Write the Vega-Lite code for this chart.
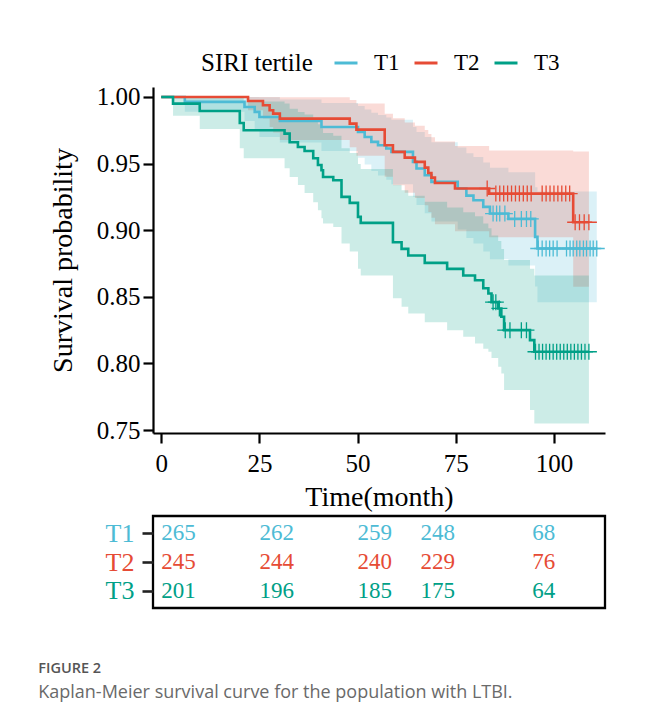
{
  "$schema": "https://vega.github.io/schema/vega-lite/v6.json",
  "background": "white",
  "padding": {"left": 38, "top": 50, "right": 0, "bottom": 0},
  "config": {
    "view": {"stroke": null},
    "font": "Liberation Serif",
    "concat": {"spacing": 3},
    "axis": {
      "domainColor": "black", "domainWidth": 2.2, "tickColor": "black", "tickWidth": 2.2, "tickSize": 10,
      "labelFont": "Liberation Serif", "labelFontSize": 25, "labelColor": "black",
      "titleFont": "Liberation Serif", "titleFontSize": 28, "titleFontWeight": "normal", "titleColor": "black",
      "grid": false
    }
  },
  "resolve": {
    "scale": {"color": "independent", "fill": "independent", "stroke": "independent"},
    "legend": {"color": "independent", "fill": "independent", "stroke": "independent"}
  },
  "title": {
    "text": "FIGURE 2",
    "subtitle": "Kaplan-Meier survival curve for the population with LTBI.",
    "orient": "bottom",
    "anchor": "start",
    "dx": -11,
    "offset": 53,
    "font": "Open Sans",
    "fontSize": 14.5,
    "fontWeight": 600,
    "color": "#555555",
    "subtitleFont": "Open Sans",
    "subtitleFontSize": 18,
    "subtitleColor": "#6a6a6a",
    "subtitlePadding": 7
  },
  "datasets": {
    "km": [
      {"g":"T1","t":0,"S":1,"lo":1,"hi":1},
      {"g":"T1","t":6.0,"S":0.9963,"lo":0.989,"hi":1},
      {"g":"T1","t":21.2,"S":0.9925,"lo":0.982,"hi":1},
      {"g":"T1","t":23.8,"S":0.9888,"lo":0.976,"hi":1},
      {"g":"T1","t":25.0,"S":0.985,"lo":0.970,"hi":0.9998},
      {"g":"T1","t":30.2,"S":0.982,"lo":0.9658,"hi":0.9982},
      {"g":"T1","t":40.8,"S":0.9775,"lo":0.9595,"hi":0.9955},
      {"g":"T1","t":50.1,"S":0.9738,"lo":0.9544,"hi":0.9932},
      {"g":"T1","t":51.8,"S":0.97,"lo":0.9493,"hi":0.9907},
      {"g":"T1","t":53.5,"S":0.9663,"lo":0.9444,"hi":0.9882},
      {"g":"T1","t":55.2,"S":0.9638,"lo":0.9411,"hi":0.9865},
      {"g":"T1","t":57.3,"S":0.9613,"lo":0.9379,"hi":0.9847},
      {"g":"T1","t":58.6,"S":0.9588,"lo":0.9346,"hi":0.983},
      {"g":"T1","t":64.1,"S":0.9513,"lo":0.9251,"hi":0.9775},
      {"g":"T1","t":65.0,"S":0.9463,"lo":0.9189,"hi":0.9737},
      {"g":"T1","t":67.1,"S":0.9413,"lo":0.9127,"hi":0.9699},
      {"g":"T1","t":68.8,"S":0.9363,"lo":0.9066,"hi":0.966},
      {"g":"T1","t":75.5,"S":0.9313,"lo":0.9006,"hi":0.9621},
      {"g":"T1","t":77.7,"S":0.926,"lo":0.8942,"hi":0.9578},
      {"g":"T1","t":79.5,"S":0.9225,"lo":0.89,"hi":0.955},
      {"g":"T1","t":82.0,"S":0.9175,"lo":0.8841,"hi":0.9509},
      {"g":"T1","t":83.7,"S":0.9125,"lo":0.8782,"hi":0.9469},
      {"g":"T1","t":88.4,"S":0.9085,"lo":0.8735,"hi":0.9436},
      {"g":"T1","t":95.2,"S":0.895,"lo":0.8577,"hi":0.9323},
      {"g":"T1","t":95.8,"S":0.8863,"lo":0.846,"hi":0.929},
      {"g":"T1","t":110.9,"S":0.8863,"lo":0.846,"hi":0.929},

      {"g":"T2","t":0,"S":1,"lo":1,"hi":1},
      {"g":"T2","t":22.1,"S":0.997,"lo":0.9901,"hi":1},
      {"g":"T2","t":25.9,"S":0.9938,"lo":0.9839,"hi":1},
      {"g":"T2","t":27.6,"S":0.99,"lo":0.9774,"hi":1},
      {"g":"T2","t":28.5,"S":0.9875,"lo":0.9734,"hi":1},
      {"g":"T2","t":30.2,"S":0.9838,"lo":0.9678,"hi":0.9998},
      {"g":"T2","t":48.0,"S":0.98,"lo":0.9623,"hi":0.9977},
      {"g":"T2","t":49.7,"S":0.9755,"lo":0.9559,"hi":0.9951},
      {"g":"T2","t":56.9,"S":0.9638,"lo":0.9402,"hi":0.9874},
      {"g":"T2","t":59.0,"S":0.9588,"lo":0.9337,"hi":0.984},
      {"g":"T2","t":62.0,"S":0.9545,"lo":0.9281,"hi":0.9809},
      {"g":"T2","t":64.6,"S":0.9513,"lo":0.9241,"hi":0.9785},
      {"g":"T2","t":67.1,"S":0.947,"lo":0.9187,"hi":0.9753},
      {"g":"T2","t":68.0,"S":0.943,"lo":0.9137,"hi":0.9723},
      {"g":"T2","t":68.8,"S":0.9395,"lo":0.9093,"hi":0.9697},
      {"g":"T2","t":69.7,"S":0.9355,"lo":0.9044,"hi":0.9666},
      {"g":"T2","t":74.8,"S":0.9313,"lo":0.8993,"hi":0.9633},
      {"g":"T2","t":83.5,"S":0.9275,"lo":0.8947,"hi":0.9598},
      {"g":"T2","t":104.9,"S":0.906,"lo":0.8575,"hi":0.959},
      {"g":"T2","t":108.9,"S":0.906,"lo":0.8575,"hi":0.959},

      {"g":"T3","t":0,"S":1,"lo":1,"hi":1},
      {"g":"T3","t":3.0,"S":0.995,"lo":0.986,"hi":1},
      {"g":"T3","t":9.8,"S":0.9895,"lo":0.976,"hi":1},
      {"g":"T3","t":20.0,"S":0.9805,"lo":0.9615,"hi":0.9997},
      {"g":"T3","t":21.0,"S":0.975,"lo":0.954,"hi":0.9966},
      {"g":"T3","t":31.4,"S":0.9725,"lo":0.9465,"hi":0.9952},
      {"g":"T3","t":32.7,"S":0.966,"lo":0.94,"hi":0.9911},
      {"g":"T3","t":34.8,"S":0.9625,"lo":0.934,"hi":0.9888},
      {"g":"T3","t":36.5,"S":0.9595,"lo":0.928,"hi":0.9868},
      {"g":"T3","t":38.7,"S":0.954,"lo":0.921,"hi":0.983},
      {"g":"T3","t":39.9,"S":0.949,"lo":0.915,"hi":0.9795},
      {"g":"T3","t":40.8,"S":0.945,"lo":0.909,"hi":0.9766},
      {"g":"T3","t":41.2,"S":0.94,"lo":0.905,"hi":0.9729},
      {"g":"T3","t":43.8,"S":0.9375,"lo":0.9025,"hi":0.971},
      {"g":"T3","t":45.9,"S":0.925,"lo":0.89,"hi":0.9615},
      {"g":"T3","t":48.0,"S":0.9205,"lo":0.884,"hi":0.958},
      {"g":"T3","t":50.1,"S":0.91,"lo":0.871,"hi":0.9497},
      {"g":"T3","t":50.8,"S":0.9055,"lo":0.866,"hi":0.946},
      {"g":"T3","t":59.0,"S":0.891,"lo":0.849,"hi":0.9342},
      {"g":"T3","t":61.2,"S":0.886,"lo":0.8425,"hi":0.930},
      {"g":"T3","t":62.9,"S":0.881,"lo":0.8375,"hi":0.9259},
      {"g":"T3","t":67.1,"S":0.8755,"lo":0.831,"hi":0.9213},
      {"g":"T3","t":72.8,"S":0.871,"lo":0.825,"hi":0.917},
      {"g":"T3","t":76.9,"S":0.866,"lo":0.82,"hi":0.9135},
      {"g":"T3","t":79.9,"S":0.8625,"lo":0.815,"hi":0.9105},
      {"g":"T3","t":82.0,"S":0.8565,"lo":0.811,"hi":0.905},
      {"g":"T3","t":83.3,"S":0.8525,"lo":0.8088,"hi":0.9015},
      {"g":"T3","t":84.1,"S":0.846,"lo":0.804,"hi":0.896},
      {"g":"T3","t":85.8,"S":0.8413,"lo":0.7975,"hi":0.892},
      {"g":"T3","t":86.6,"S":0.835,"lo":0.7925,"hi":0.886},
      {"g":"T3","t":87.3,"S":0.825,"lo":0.78,"hi":0.8777},
      {"g":"T3","t":93.9,"S":0.8175,"lo":0.765,"hi":0.871},
      {"g":"T3","t":95.0,"S":0.8088,"lo":0.755,"hi":0.866},
      {"g":"T3","t":108.9,"S":0.8088,"lo":0.755,"hi":0.866}
    ],
    "cens": [
      {"g":"T1","t":84.5,"S":0.9125},{"g":"T1","t":85.4,"S":0.9125},{"g":"T1","t":86.2,"S":0.9125},{"g":"T1","t":87.5,"S":0.9125},
      {"g":"T1","t":90.0,"S":0.9085},{"g":"T1","t":91.7,"S":0.9085},{"g":"T1","t":93.0,"S":0.9085},{"g":"T1","t":94.1,"S":0.9085},
      {"g":"T1","t":96.0,"S":0.8863},{"g":"T1","t":97.0,"S":0.8863},{"g":"T1","t":98.0,"S":0.8863},{"g":"T1","t":98.9,"S":0.8863},
      {"g":"T1","t":99.8,"S":0.8863},{"g":"T1","t":100.8,"S":0.8863},{"g":"T1","t":103.2,"S":0.8863},{"g":"T1","t":104.1,"S":0.8863},
      {"g":"T1","t":104.9,"S":0.8863},{"g":"T1","t":105.8,"S":0.8863},{"g":"T1","t":106.6,"S":0.8863},{"g":"T1","t":107.5,"S":0.8863},
      {"g":"T1","t":108.3,"S":0.8863},{"g":"T1","t":109.2,"S":0.8863},{"g":"T1","t":110.0,"S":0.8863},{"g":"T1","t":110.9,"S":0.8863},

      {"g":"T2","t":83.0,"S":0.9313},
      {"g":"T2","t":85.2,"S":0.9275},{"g":"T2","t":86.2,"S":0.9275},{"g":"T2","t":87.2,"S":0.9275},{"g":"T2","t":88.2,"S":0.9275},
      {"g":"T2","t":89.2,"S":0.9275},{"g":"T2","t":90.2,"S":0.9275},{"g":"T2","t":91.2,"S":0.9275},{"g":"T2","t":92.2,"S":0.9275},
      {"g":"T2","t":93.2,"S":0.9275},{"g":"T2","t":94.2,"S":0.9275},
      {"g":"T2","t":97.0,"S":0.9275},{"g":"T2","t":98.0,"S":0.9275},{"g":"T2","t":99.0,"S":0.9275},{"g":"T2","t":100.0,"S":0.9275},
      {"g":"T2","t":101.0,"S":0.9275},{"g":"T2","t":102.0,"S":0.9275},{"g":"T2","t":103.0,"S":0.9275},{"g":"T2","t":104.0,"S":0.9275},
      {"g":"T2","t":105.4,"S":0.906},{"g":"T2","t":106.5,"S":0.906},{"g":"T2","t":107.7,"S":0.906},{"g":"T2","t":108.9,"S":0.906},

      {"g":"T3","t":84.5,"S":0.846},{"g":"T3","t":85.2,"S":0.846},{"g":"T3","t":86.1,"S":0.8413},
      {"g":"T3","t":87.6,"S":0.825},{"g":"T3","t":88.8,"S":0.825},{"g":"T3","t":91.7,"S":0.825},{"g":"T3","t":93.0,"S":0.825},
      {"g":"T3","t":95.3,"S":0.8088},{"g":"T3","t":96.2,"S":0.8088},{"g":"T3","t":97.1,"S":0.8088},{"g":"T3","t":98.0,"S":0.8088},
      {"g":"T3","t":98.9,"S":0.8088},{"g":"T3","t":99.8,"S":0.8088},{"g":"T3","t":100.7,"S":0.8088},{"g":"T3","t":101.6,"S":0.8088},
      {"g":"T3","t":102.5,"S":0.8088},{"g":"T3","t":103.4,"S":0.8088},{"g":"T3","t":104.3,"S":0.8088},{"g":"T3","t":105.2,"S":0.8088},
      {"g":"T3","t":106.1,"S":0.8088},{"g":"T3","t":107.0,"S":0.8088},{"g":"T3","t":107.9,"S":0.8088},{"g":"T3","t":108.9,"S":0.8088}
    ],
    "risk": [
      {"g":"T1","t":0,"n":"265"},{"g":"T1","t":25,"n":"262"},{"g":"T1","t":50,"n":"259"},{"g":"T1","t":66,"n":"248"},{"g":"T1","t":94.5,"n":"68"},
      {"g":"T2","t":0,"n":"245"},{"g":"T2","t":25,"n":"244"},{"g":"T2","t":50,"n":"240"},{"g":"T2","t":66,"n":"229"},{"g":"T2","t":94.5,"n":"76"},
      {"g":"T3","t":0,"n":"201"},{"g":"T3","t":25,"n":"196"},{"g":"T3","t":50,"n":"185"},{"g":"T3","t":66,"n":"175"},{"g":"T3","t":94.5,"n":"64"}
    ]
  },
  "vconcat": [
    {
      "width": 452,
      "height": 346,
      "layer": [
        {
          "data": {"name": "km"},
          "mark": {"type": "area", "interpolate": "step-after", "opacity": 0.2},
          "encoding": {
            "x": {"field": "t", "type": "quantitative",
                  "scale": {"domain": [-2.1, 113], "nice": false, "zero": false},
                  "axis": {"values": [0, 25, 50, 75, 100], "title": "Time(month)", "labelPadding": 8, "titlePadding": 7}},
            "y": {"field": "lo", "type": "quantitative",
                  "scale": {"domain": [0.7478, 1.0075], "nice": false, "zero": false},
                  "axis": {"values": [0.75, 0.8, 0.85, 0.9, 0.95, 1.0], "format": ".2f", "title": "Survival probability", "labelPadding": 3, "titlePadding": 19}},
            "y2": {"field": "hi"},
            "fill": {"field": "g", "type": "nominal",
                     "scale": {"domain": ["T3", "T2", "T1"], "range": ["#00A087", "#E64B35", "#4DBBD5"]},
                     "legend": null}
          }
        },
        {
          "data": {"name": "km"},
          "mark": {"type": "line", "interpolate": "step-after", "strokeWidth": 2.6},
          "encoding": {
            "x": {"field": "t", "type": "quantitative"},
            "y": {"field": "S", "type": "quantitative"},
            "color": {"field": "g", "type": "nominal",
                      "scale": {"domain": ["T1", "T2", "T3"], "range": ["#4DBBD5", "#E64B35", "#00A087"]},
                      "legend": {
                        "orient": "none", "legendX": 48, "legendY": -37, "direction": "horizontal",
                        "title": "SIRI tertile", "titleOrient": "left", "titleFont": "Liberation Serif",
                        "titleFontSize": 25, "titleFontWeight": "normal", "titleColor": "black", "titlePadding": 20,
                        "labelFont": "Liberation Serif", "labelFontSize": 23, "labelColor": "black",
                        "symbolType": "stroke", "symbolSize": 529, "symbolStrokeWidth": 3,
                        "labelOffset": 15, "columnPadding": 8, "padding": 0
                      }}
          }
        },
        {
          "data": {"name": "cens"},
          "mark": {"type": "point", "shape": "M0,-1L0,1M-1,0L1,0", "filled": false, "size": 256, "strokeWidth": 1.3, "opacity": 1},
          "encoding": {
            "x": {"field": "t", "type": "quantitative"},
            "y": {"field": "S", "type": "quantitative"},
            "stroke": {"field": "g", "type": "nominal",
                       "scale": {"domain": ["T2", "T1", "T3"], "range": ["#E64B35", "#4DBBD5", "#00A087"]},
                       "legend": null}
          }
        },
        {
          "mark": {"type": "text", "text": "P", "fontStyle": "italic", "fontSize": 24, "align": "left", "baseline": "alphabetic", "color": "black"},
          "encoding": {
            "x": {"datum": -0.1, "type": "quantitative"},
            "y": {"datum": 0.7588, "type": "quantitative"}
          }
        },
        {
          "mark": {"type": "text", "text": "= 0.002", "fontSize": 24, "align": "left", "baseline": "alphabetic", "color": "black"},
          "encoding": {
            "x": {"datum": 6.3, "type": "quantitative"},
            "y": {"datum": 0.7588, "type": "quantitative"}
          }
        }
      ]
    },
    {
      "width": 452,
      "height": 92,
      "view": {"stroke": "black", "strokeWidth": 2.3},
      "data": {"name": "risk"},
      "mark": {"type": "text", "align": "left", "baseline": "middle", "fontSize": 23, "font": "Liberation Serif"},
      "encoding": {
        "x": {"field": "t", "type": "quantitative", "scale": {"domain": [-2.1, 113], "nice": false, "zero": false}, "axis": null},
        "y": {"field": "g", "type": "nominal",
              "scale": {"type": "point", "domain": ["T1", "T2", "T3"], "padding": 0.59},
              "axis": {"title": null, "domain": false, "labelFontSize": 26, "tickSize": 11, "tickWidth": 2.6, "tickColor": "#222222", "labelPadding": 8,
                       "labelColor": {"condition": [
                         {"test": "datum.value === 'T1'", "value": "#4DBBD5"},
                         {"test": "datum.value === 'T2'", "value": "#E64B35"}
                       ], "value": "#00A087"}}},
        "text": {"field": "n"},
        "fill": {"field": "g", "type": "nominal",
                 "scale": {"domain": ["T1", "T3", "T2"], "range": ["#4DBBD5", "#00A087", "#E64B35"]},
                 "legend": null}
      }
    }
  ]
}
